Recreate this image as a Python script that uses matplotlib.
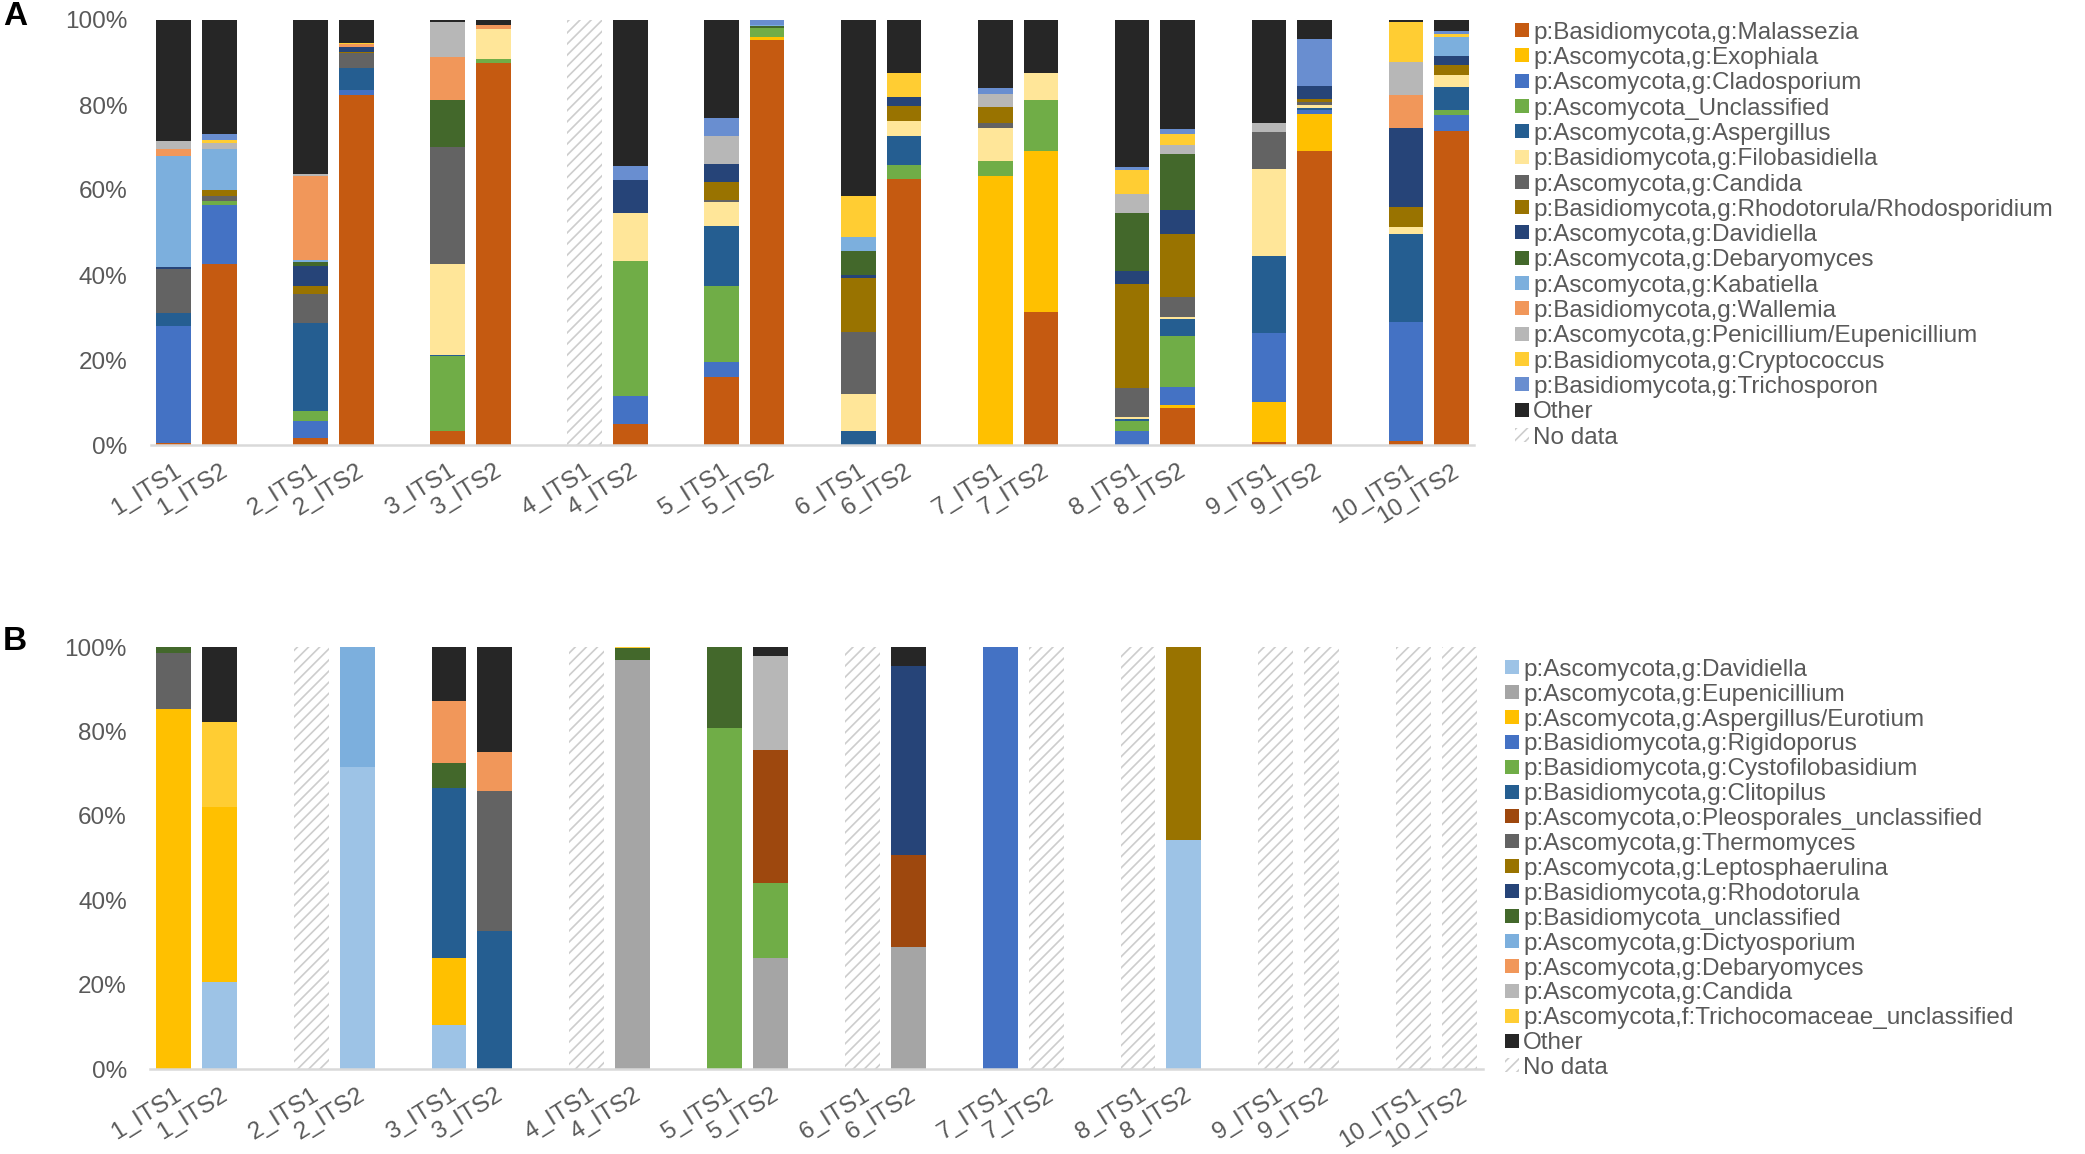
import matplotlib.pyplot as plt
from matplotlib.patches import Rectangle

plt.rcParams['font.family'] = ['Liberation Sans', 'DejaVu Sans']
plt.rcParams['hatch.linewidth'] = 1.2

samples = ['1_ITS1', '1_ITS2', '2_ITS1', '2_ITS2', '3_ITS1', '3_ITS2', '4_ITS1', '4_ITS2',
           '5_ITS1', '5_ITS2', '6_ITS1', '6_ITS2', '7_ITS1', '7_ITS2', '8_ITS1', '8_ITS2',
           '9_ITS1', '9_ITS2', '10_ITS1', '10_ITS2']

# panel A (percent of reads, bottom to top)
a_malassezia = [0.5, 42.7, 1.6, 82.3, 3.2, 89.8, 0, 5.0, 16.1, 95.3, 0, 62.7, 0, 31.2, 0, 8.8, 0.8, 69.1, 1.0, 74.0]
a_exophiala = [0, 0, 0, 0, 0, 0, 0, 0, 0, 0.8, 0, 0, 63.2, 37.9, 0, 0.6, 9.3, 8.8, 0, 0]
a_cladosporium = [27.6, 13.7, 4.1, 1.2, 0, 0, 0, 6.5, 3.4, 0, 0, 0, 0, 0, 3.2, 4.2, 16.3, 0.9, 28.0, 3.7]
a_asco_uncl = [0, 1.0, 2.4, 0, 17.7, 1.0, 0, 31.7, 18.0, 2.0, 0, 3.2, 3.6, 12.0, 2.5, 12.1, 0, 0, 0, 1.1]
a_aspergillus = [3.0, 0, 20.5, 5.3, 0.3, 0, 0, 0, 14.0, 0, 3.4, 6.7, 0, 0, 0.4, 3.9, 18.1, 0.4, 20.7, 5.4]
a_filobasidiella = [0, 0, 0, 0, 21.5, 7.2, 0, 11.5, 5.7, 0, 8.5, 3.6, 7.7, 6.5, 0.6, 0.5, 20.4, 0.7, 1.5, 2.9]
a_candida = [10.4, 1.3, 7.0, 3.5, 27.4, 0, 0, 0, 0.4, 0, 14.7, 0, 1.2, 0, 6.6, 4.8, 8.7, 0.7, 0, 0]
a_rhodotorula = [0, 1.3, 1.7, 0.2, 0, 0, 0, 0, 4.4, 0, 12.7, 3.6, 3.9, 0, 24.6, 14.7, 0, 0.9, 4.8, 2.4]
a_davidiella = [0.4, 0, 4.9, 1.2, 0, 0, 0, 7.6, 4.2, 0, 0.6, 2.1, 0, 0, 3.0, 5.7, 0, 3.0, 18.5, 2.0]
a_debaryomyces = [0, 0, 0.8, 0, 11.0, 0, 0, 0, 0, 0.4, 5.7, 0, 0, 0, 13.7, 13.2, 0, 0, 0, 0]
a_kabatiella = [26.0, 9.7, 0.5, 0, 0, 0, 0, 0, 0, 0.4, 3.4, 0, 0, 0, 0, 0, 0, 0, 0, 4.4]
a_wallemia = [1.8, 0, 19.7, 0.6, 10.3, 0.8, 0, 0, 0, 0, 0, 0, 0, 0, 0, 0, 0, 0, 7.8, 0]
a_penicillium = [1.9, 1.3, 0.5, 0, 8.2, 0, 0, 0, 6.5, 0, 0, 0, 2.9, 0, 4.5, 2.1, 2.2, 0, 7.9, 0]
a_cryptococcus = [0, 0.7, 0, 0.3, 0, 0, 0, 0, 0, 0, 9.7, 5.7, 0, 0, 5.6, 2.6, 0, 0, 9.4, 0.7]
a_trichosporon = [0, 1.4, 0, 0, 0, 0, 0, 3.4, 4.2, 1.1, 0, 0, 1.4, 0, 0.7, 1.1, 0, 11.0, 0, 0.9]
a_other = [28.4, 26.9, 36.3, 5.4, 0.4, 1.2, 0, 34.3, 23.1, 0, 41.3, 12.4, 16.1, 12.4, 34.6, 25.7, 24.2, 4.5, 0.4, 2.5]
a_nodata = ['4_ITS1']

# panel B
b_davidiella = [0, 20.5, 0, 71.5, 10.4, 0, 0, 0, 0, 0, 0, 0, 0, 0, 0, 54.3, 0, 0, 0, 0]
b_eupenicillium = [0, 0, 0, 0, 0, 0, 0, 96.9, 0, 26.4, 0, 28.9, 0, 0, 0, 0, 0, 0, 0, 0]
b_aspergillus = [85.2, 41.5, 0, 0, 16.0, 0, 0, 0, 0, 0, 0, 0, 0, 0, 0, 0, 0, 0, 0, 0]
b_rigidoporus = [0, 0, 0, 0, 0, 0, 0, 0, 0, 0, 0, 0, 100.0, 0, 0, 0, 0, 0, 0, 0]
b_cystofilobasidium = [0, 0, 0, 0, 0, 0, 0, 0, 80.8, 17.6, 0, 0, 0, 0, 0, 0, 0, 0, 0, 0]
b_clitopilus = [0, 0, 0, 0, 40.1, 32.6, 0, 0, 0, 0, 0, 0, 0, 0, 0, 0, 0, 0, 0, 0]
b_pleosporales = [0, 0, 0, 0, 0, 0, 0, 0, 0, 31.7, 0, 21.7, 0, 0, 0, 0, 0, 0, 0, 0]
b_thermomyces = [13.4, 0, 0, 0, 0, 33.3, 0, 0, 0, 0, 0, 0, 0, 0, 0, 0, 0, 0, 0, 0]
b_leptosphaerulina = [0, 0, 0, 0, 0, 0, 0, 0, 0, 0, 0, 0, 0, 0, 0, 45.7, 0, 0, 0, 0]
b_rhodotorula = [0, 0, 0, 0, 0, 0, 0, 0, 0, 0, 0, 44.8, 0, 0, 0, 0, 0, 0, 0, 0]
b_basidio_uncl = [1.4, 0, 0, 0, 6.1, 0, 0, 2.9, 19.2, 0, 0, 0, 0, 0, 0, 0, 0, 0, 0, 0]
b_dictyosporium = [0, 0, 0, 28.5, 0, 0, 0, 0, 0, 0, 0, 0, 0, 0, 0, 0, 0, 0, 0, 0]
b_debaryomyces = [0, 0, 0, 0, 14.7, 9.3, 0, 0, 0, 0, 0, 0, 0, 0, 0, 0, 0, 0, 0, 0]
b_candida = [0, 0, 0, 0, 0, 0, 0, 0, 0, 22.1, 0, 0, 0, 0, 0, 0, 0, 0, 0, 0]
b_trichocomaceae = [0, 20.3, 0, 0, 0, 0, 0, 0.2, 0, 0, 0, 0, 0, 0, 0, 0, 0, 0, 0, 0]
b_other = [0, 17.7, 0, 0, 12.7, 24.8, 0, 0, 0, 2.2, 0, 4.6, 0, 0, 0, 0, 0, 0, 0, 0]
b_nodata = ['2_ITS1', '4_ITS1', '6_ITS1', '7_ITS2', '8_ITS1', '9_ITS1', '9_ITS2', '10_ITS1', '10_ITS2']

series_a = [
    ('p:Basidiomycota,g:Malassezia', '#C55A11', a_malassezia),
    ('p:Ascomycota,g:Exophiala', '#FFC000', a_exophiala),
    ('p:Ascomycota,g:Cladosporium', '#4472C4', a_cladosporium),
    ('p:Ascomycota_Unclassified', '#70AD47', a_asco_uncl),
    ('p:Ascomycota,g:Aspergillus', '#255E91', a_aspergillus),
    ('p:Basidiomycota,g:Filobasidiella', '#FFE699', a_filobasidiella),
    ('p:Ascomycota,g:Candida', '#636363', a_candida),
    ('p:Basidiomycota,g:Rhodotorula/Rhodosporidium', '#997300', a_rhodotorula),
    ('p:Ascomycota,g:Davidiella', '#264478', a_davidiella),
    ('p:Ascomycota,g:Debaryomyces', '#43682B', a_debaryomyces),
    ('p:Ascomycota,g:Kabatiella', '#7CAFDD', a_kabatiella),
    ('p:Basidiomycota,g:Wallemia', '#F1975A', a_wallemia),
    ('p:Ascomycota,g:Penicillium/Eupenicillium', '#B7B7B7', a_penicillium),
    ('p:Basidiomycota,g:Cryptococcus', '#FFCD33', a_cryptococcus),
    ('p:Basidiomycota,g:Trichosporon', '#698ED0', a_trichosporon),
    ('Other', '#262626', a_other),
]
series_b = [
    ('p:Ascomycota,g:Davidiella', '#9DC3E6', b_davidiella),
    ('p:Ascomycota,g:Eupenicillium', '#A5A5A5', b_eupenicillium),
    ('p:Ascomycota,g:Aspergillus/Eurotium', '#FFC000', b_aspergillus),
    ('p:Basidiomycota,g:Rigidoporus', '#4472C4', b_rigidoporus),
    ('p:Basidiomycota,g:Cystofilobasidium', '#70AD47', b_cystofilobasidium),
    ('p:Basidiomycota,g:Clitopilus', '#255E91', b_clitopilus),
    ('p:Ascomycota,o:Pleosporales_unclassified', '#9E480E', b_pleosporales),
    ('p:Ascomycota,g:Thermomyces', '#636363', b_thermomyces),
    ('p:Ascomycota,g:Leptosphaerulina', '#997300', b_leptosphaerulina),
    ('p:Basidiomycota,g:Rhodotorula', '#264478', b_rhodotorula),
    ('p:Basidiomycota_unclassified', '#43682B', b_basidio_uncl),
    ('p:Ascomycota,g:Dictyosporium', '#7CAFDD', b_dictyosporium),
    ('p:Ascomycota,g:Debaryomyces', '#F1975A', b_debaryomyces),
    ('p:Ascomycota,g:Candida', '#B7B7B7', b_candida),
    ('p:Ascomycota,f:Trichocomaceae_unclassified', '#FFCD33', b_trichocomaceae),
    ('Other', '#262626', b_other),
]

W, H = 2085, 1154
TXT = '#595959'
HATCH = '#CDCDCD'
# each sample pair takes two slots, then one empty slot
xpos = [(i // 2) * 3 + i % 2 for i in range(len(samples))]


def draw(ax, series, nodata):
    bottom = [0.0] * len(samples)
    for name, col, vals in series:
        ax.bar(xpos, vals, 0.76, bottom=bottom, color=col, linewidth=0)
        bottom = [b + v for b, v in zip(bottom, vals)]
    nd_x = [xpos[samples.index(s)] for s in nodata]
    ax.bar(nd_x, [100] * len(nd_x), 0.76, facecolor='white', edgecolor=HATCH,
           hatch='///', linewidth=0)
    ax.set_xlim(-0.5, 28.5)
    ax.set_ylim(0, 100)
    ax.set_yticks(range(0, 101, 20), [f'{v}%' for v in range(0, 101, 20)])
    ax.set_xticks(xpos, samples)
    for lab in ax.get_xticklabels():
        lab.set_rotation(32)
        lab.set_ha('right')
        lab.set_va('top')
        lab.set_rotation_mode('anchor')
    ax.tick_params(axis='y', length=0, pad=17, labelsize=17.5, labelcolor=TXT)
    ax.tick_params(axis='x', length=0, pad=11, labelsize=17.5, labelcolor=TXT)
    for s in ['top', 'right', 'left']:
        ax.spines[s].set_visible(False)
    ax.spines['bottom'].set_color('#D9D9D9')
    ax.spines['bottom'].set_linewidth(1.8)


def legend(series, x0, y0, step, fs=17.5):
    # Excel-style legend: small squares and grey text, rows in pixel units
    labels = [n for n, _, _ in series] + ['No data']
    em = fs * 100 / 72
    for i, lab in enumerate(labels):
        yc = y0 + i * step
        if i < len(series):
            sq = Rectangle((x0 / W, 1 - (yc + 7) / H), 14 / W, 14 / H, transform=fig.transFigure,
                           facecolor=series[i][1], linewidth=0)
        else:
            sq = Rectangle((x0 / W, 1 - (yc + 7) / H), 14 / W, 14 / H, transform=fig.transFigure,
                           facecolor='white', edgecolor=HATCH, hatch='///', linewidth=0)
        fig.add_artist(sq)
        fig.text((x0 + 18) / W, 1 - (yc + 0.358 * em) / H, lab, fontsize=fs, color=TXT,
                 ha='left', va='baseline')


fig = plt.figure(figsize=(W / 100, H / 100), dpi=100)
axA = fig.add_axes([151 / W, 1 - 445 / H, (1474.4 - 151) / W, (445 - 20) / H])
axB = fig.add_axes([150.4 / W, 1 - 1069 / H, (1482.5 - 150.4) / W, (1069 - 647) / H])

draw(axA, series_a, a_nodata)
draw(axB, series_b, b_nodata)

legend(series_a, 1515, 30, 25.3)
legend(series_b, 1505, 667, 24.9)

fig.text(3 / W, 1 - 1 / H, 'A', fontsize=24, fontweight='bold', va='top', ha='left')
fig.text(3 / W, 1 - 626 / H, 'B', fontsize=24, fontweight='bold', va='top', ha='left')

fig.savefig('out.png', dpi=100)
